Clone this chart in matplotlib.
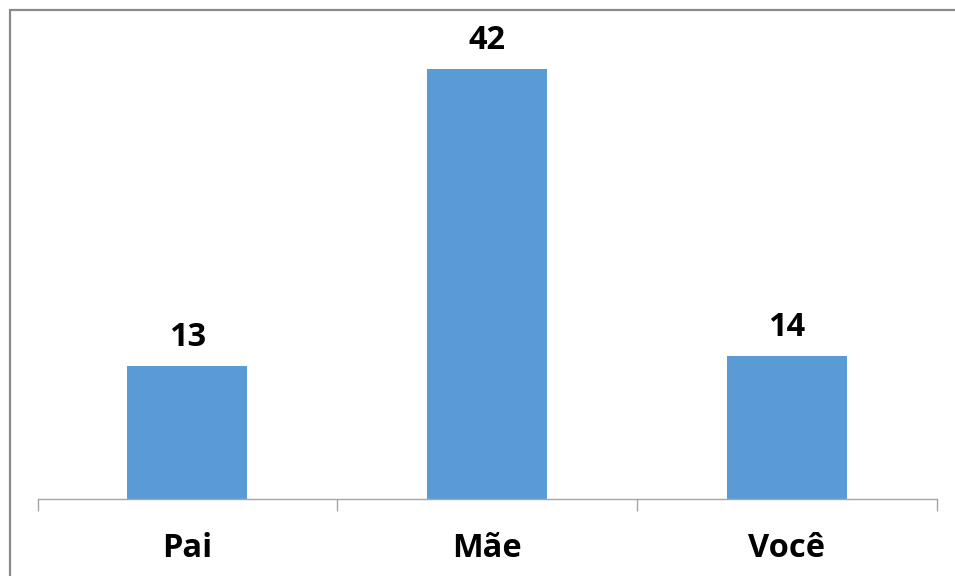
import matplotlib
matplotlib.use("Agg")
import matplotlib.pyplot as plt
from matplotlib.patches import Rectangle

# Chart data
categories = ["Pai", "Mãe", "Você"]
values = [13, 42, 14]

BAR_COLOR = "#5B9BD5"
AXIS_COLOR = "#A6A6A6"
FONT = ["Open Sans", "DejaVu Sans"]

W, H, DPI = 955, 576, 100
fig = plt.figure(figsize=(W / DPI, H / DPI), dpi=DPI)
fig.patch.set_facecolor("white")

# Plot area placed in pixel terms
left_px, right_px = 37.5, 936.5
axis_y_px, top_px = 499, 38.2
ax = fig.add_axes([left_px / W, (H - axis_y_px) / H,
                   (right_px - left_px) / W, (axis_y_px - top_px) / H])

x = list(range(len(categories)))
bars = ax.bar(x, values, width=0.4, color=BAR_COLOR, zorder=2)

ax.set_xlim(-0.5, len(categories) - 0.5)
ax.set_ylim(0, 45)

# Value labels above each bar
for xi, v in zip(x, values):
    ax.annotate(f"{v}", xy=(xi, v), xytext=(0, 14.4), textcoords="offset points",
                ha="center", va="baseline", fontsize=23.5, fontweight="bold",
                family=FONT, color="black")

# Spines: only the bottom category axis
for side in ("left", "right", "top"):
    ax.spines[side].set_visible(False)
ax.spines["bottom"].set_color(AXIS_COLOR)
ax.spines["bottom"].set_linewidth(1.0)
ax.yaxis.set_visible(False)

# Category labels on major ticks, separator ticks between categories
ax.set_xticks(x)
ax.set_xticklabels(categories)
ax.tick_params(axis="x", which="major", length=0, pad=41.8)
for lbl in ax.get_xticklabels():
    lbl.set_fontsize(23.5)
    lbl.set_fontweight("bold")
    lbl.set_family(FONT)
    lbl.set_va("baseline")

ax.set_xticks([i - 0.5 for i in range(len(categories) + 1)], minor=True)
ax.tick_params(axis="x", which="minor", direction="out", length=8.6,
               width=1.0, color=AXIS_COLOR)

# Outer chart frame
frame = Rectangle((10 / W, -0.05), 1.2, (H - 10) / H + 0.05,
                  transform=fig.transFigure, fill=False,
                  edgecolor="#8A8A8A", linewidth=1.6, zorder=10)
fig.patches.append(frame)

fig.savefig("out.png", dpi=DPI, facecolor="white")
